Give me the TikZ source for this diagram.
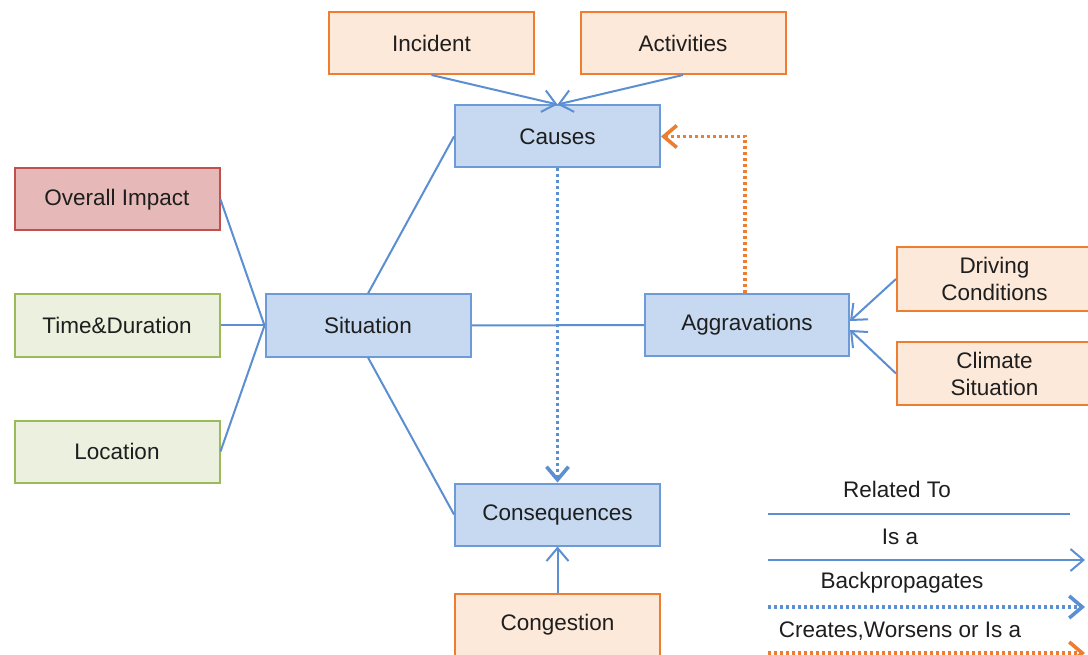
\documentclass[tikz,border=0pt]{standalone}
\usepackage{fontspec}
\setmainfont{Liberation Sans}
\usetikzlibrary{arrows.meta}
\definecolor{linkblue}{RGB}{91,143,210}
\definecolor{bluefill}{RGB}{198,217,241}
\definecolor{blueedge}{RGB}{108,155,215}
\definecolor{orangeedge}{RGB}{237,125,49}
\definecolor{orangefill}{RGB}{253,233,217}
\definecolor{redfill}{RGB}{230,185,184}
\definecolor{rededge}{RGB}{192,80,77}
\definecolor{greenfill}{RGB}{235,241,222}
\definecolor{greenedge}{RGB}{155,187,89}
\definecolor{ink}{RGB}{30,30,30}
\tikzset{
  box/.style={draw, line width=2pt, minimum width=205pt, minimum height=62pt,
    inner sep=0pt, align=center, text=ink, font=\fontsize{22.5}{27}\selectfont},
  core/.style={box, fill=bluefill, draw=blueedge},
  source/.style={box, fill=orangefill, draw=orangeedge},
  impact/.style={box, fill=redfill, draw=rededge},
  context/.style={box, fill=greenfill, draw=greenedge},
  related/.style={draw=linkblue, line width=2pt},
  isa/.style={related, -{Straight Barb[length=13pt,width=22pt,line width=2pt]}},
  backprop/.style={draw=linkblue, line width=3.2pt, dash pattern=on 3pt off 3pt,
    -{Straight Barb[length=13pt,width=22pt,line width=3.6pt]}},
  worsens/.style={draw=orangeedge, line width=3.2pt, dash pattern=on 3pt off 3pt,
    -{Straight Barb[length=13pt,width=22pt,line width=3.6pt]}},
  legendtext/.style={text=ink, inner sep=0pt, font=\fontsize{22.5}{27}\selectfont}
}
\begin{document}
\begin{tikzpicture}[x=1pt,y=-1pt]
\useasboundingbox (0,0) rectangle (1088,655);
\fill[white] (0,0) rectangle (1088,655);
\clip (0,0) rectangle (1088,655);

% central concepts
\node[core] (causes) at (557.5,136.5) {Causes};
\node[core] (situation) at (368,325.5) {Situation};
\node[core, minimum width=204pt] (aggr) at (747,325) {Aggravations};
\node[core] (conseq) at (557.5,514.5) {Consequences};

% sources
\node[source] (incident) at (431.5,43) {Incident};
\node[source] (activities) at (683,43) {Activities};
\node[source, minimum width=195pt, minimum height=64pt] (driving) at (994.5,279) {Driving\\Conditions};
\node[source, minimum width=195pt, minimum height=62pt] (climate) at (994.5,373.5) {Climate\\Situation};
\node[source] (congestion) at (557.5,625) {Congestion};

% descriptors of a situation
\node[impact] (overall) at (117,199.5) {Overall Impact};
\node[context] (time) at (117,325.5) {Time\&Duration};
\node[context] (location) at (117,451.5) {Location};

% related-to links
\draw[related] (overall.east) -- (situation.west);
\draw[related] (time.east) -- (situation.west);
\draw[related] (location.east) -- (situation.west);
\draw[related] (situation.north) -- (causes.west);
\draw[related] (situation.south) -- (conseq.west);
\draw[related] (situation.east) -- (aggr.west);

% is-a links
\draw[isa] (incident.south) -- (causes.north);
\draw[isa] (activities.south) -- (causes.north);
\draw[isa] (driving.west) -- ([yshift=4pt]aggr.east);
\draw[isa] (climate.west) -- ([yshift=-5pt]aggr.east);
\draw[isa] (congestion.north) -- (conseq.south);

% backpropagation and worsening
\draw[backprop] (causes.south) -- (conseq.north);
\draw[worsens] ([xshift=-2pt]aggr.north) |- (causes.east);

% legend
\node[legendtext] (lgrel) at (897,489) {Related To};
\coordinate (lgrelA) at (768,514);
\coordinate (lgrelB) at (1070,514);
\draw[related] (lgrelA) -- (lgrelB);

\node[legendtext] (lgisa) at (900,537) {Is a};
\coordinate (lgisaA) at (768,560);
\coordinate (lgisaB) at (1085,560);
\draw[isa] (lgisaA) -- (lgisaB);

\node[legendtext] (lgback) at (902,583) {Backpropagates};
\coordinate (lgbackA) at (768,607);
\coordinate (lgbackB) at (1085,607);
\draw[backprop] (lgbackA) -- (lgbackB);

\node[legendtext] (lgwors) at (900,631) {Creates,Worsens or Is a};
\coordinate (lgworsA) at (768,653);
\coordinate (lgworsB) at (1085,653);
\draw[worsens] (lgworsA) -- (lgworsB);
\end{tikzpicture}
\end{document}
